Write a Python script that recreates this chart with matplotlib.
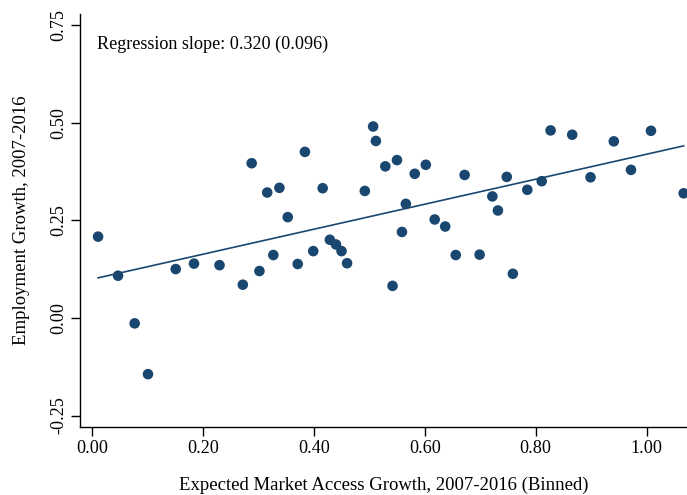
import numpy as np
import matplotlib
matplotlib.use("Agg")
import matplotlib.pyplot as plt

plt.rcParams['font.family'] = ['Liberation Serif', 'DejaVu Serif']

# binned scatter values
ma_growth = [0.011, 0.047, 0.077, 0.101, 0.151, 0.184, 0.230, 0.272, 0.288, 0.302,
             0.316, 0.327, 0.338, 0.353, 0.371, 0.384, 0.399, 0.416, 0.429, 0.440,
             0.450, 0.460, 0.492, 0.507, 0.512, 0.529, 0.542, 0.550, 0.559, 0.566,
             0.582, 0.602, 0.618, 0.637, 0.656, 0.672, 0.699, 0.722, 0.732, 0.748,
             0.759, 0.785, 0.811, 0.827, 0.866, 0.899, 0.941, 0.972, 1.008, 1.067]
emp_growth = [0.208, 0.108, -0.014, -0.144, 0.125, 0.139, 0.135, 0.085, 0.396, 0.120,
              0.321, 0.161, 0.333, 0.258, 0.138, 0.425, 0.171, 0.332, 0.200, 0.188,
              0.171, 0.140, 0.325, 0.490, 0.453, 0.388, 0.082, 0.404, 0.220, 0.292,
              0.369, 0.392, 0.252, 0.234, 0.161, 0.366, 0.162, 0.311, 0.275, 0.361,
              0.113, 0.328, 0.350, 0.480, 0.469, 0.360, 0.452, 0.379, 0.479, 0.319]

# fitted line
intercept = 0.099
slope = 0.320
slope_se = 0.096

xticks = [0.0, 0.2, 0.4, 0.6, 0.8, 1.0]
yticks = [-0.25, 0.0, 0.25, 0.5, 0.75]

navy = '#1a476f'
fs = 13.1

fig = plt.figure(figsize=(6.87, 4.95), dpi=100)
ax = fig.add_axes([80/687, 1-426.5/495, 1-80/687, (426.5-14)/495])

ax.scatter(ma_growth, emp_growth, s=58, color=navy, edgecolors='none', zorder=3)
xl = np.array([min(ma_growth), max(ma_growth)])
ax.plot(xl, intercept + slope*xl, color=navy, linewidth=1.2, zorder=2)

ax.text(0.009, 0.70, 'Regression slope: %.3f (%.3f)' % (slope, slope_se),
        fontsize=fs, va='center', ha='left')

ax.set_xlim(-0.0216, 1.073)
ax.set_ylim(-0.278, 0.778)
ax.set_xticks(xticks)
ax.set_xticklabels(['%.2f' % t for t in xticks])
ax.set_yticks(yticks)
ax.set_yticklabels(['%.2f' % t for t in yticks], rotation=90, va='center')

for side in ['top', 'right']:
    ax.spines[side].set_visible(False)
for side in ['left', 'bottom']:
    ax.spines[side].set_linewidth(1.0)
ax.tick_params(axis='both', direction='out', length=6.5, width=1.0, labelsize=fs)
ax.tick_params(axis='x', pad=3)
ax.tick_params(axis='y', pad=2.5)

ax.set_xlabel('Expected Market Access Growth, 2007-2016 (Binned)', fontsize=13.5, labelpad=14.5)
ax.set_ylabel('Employment Growth, 2007-2016', fontsize=13.5, labelpad=15)

fig.savefig('out.png', dpi=100)
